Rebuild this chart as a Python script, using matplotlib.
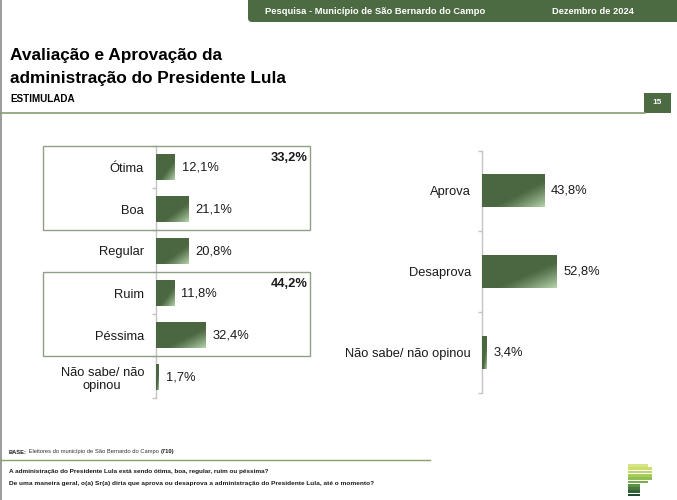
import matplotlib
matplotlib.use("Agg")
import matplotlib.pyplot as plt
import matplotlib.transforms as mtransforms
from matplotlib import font_manager
from matplotlib.patches import Rectangle, FancyBboxPatch
import numpy as np

plt.rcParams['font.family'] = ['Liberation Sans', 'DejaVu Sans']
nomes = {f.name for f in font_manager.fontManager.ttflist}
NARROW = 'Liberation Sans Narrow' if 'Liberation Sans Narrow' in nomes else 'Liberation Sans'

# dados
aval_cat = ['Ótima', 'Boa', 'Regular', 'Ruim', 'Péssima', 'Não sabe/ não\nopinou']
aval_val = [12.1, 21.1, 20.8, 11.8, 32.4, 1.7]
grupos = [('33,2%', 0, 1), ('44,2%', 3, 4)]   # total, primeira, ultima categoria

aprov_cat = ['Aprova', 'Desaprova', 'Não sabe/ não opinou']
aprov_val = [43.8, 52.8, 3.4]

perguntas = ['A administração do Presidente Lula está sendo ótima, boa, regular, ruim ou péssima?',
             'De uma maneira geral, o(a) Sr(a) diria que aprova ou desaprova a administração do Presidente Lula, até o momento?']

DARK = '#4a6741'
LIGHT = '#b4d2aa'
VERDE = '#4d6b43'

fig = plt.figure(figsize=(6.77, 5.0), dpi=100)
renderer = fig.canvas.get_renderer()
# coordenadas em pixels, origem no topo
px = mtransforms.Affine2D().scale(1, -1).translate(0, 500)


def largura(t):
    return t.get_window_extent(renderer).width


def texto_ajustado(x, y, s, alvo, **kw):
    t = fig.text(x, y, s, transform=px, **kw)
    t.set_fontsize(t.get_fontsize() * alvo / largura(t))
    return t


def grad_bar(ax, y, w, h):
    bar = ax.barh(y, w, height=h, color=DARK, edgecolor='none', zorder=2)[0]
    nx, ny = 60, 20
    xx, yy = np.meshgrid(np.linspace(0, 1, nx), np.linspace(0, 1, ny))
    t = np.clip(((xx + yy) / 2 - 0.6) / 0.4, 0, 1) ** 1.2
    c0 = np.array(matplotlib.colors.to_rgb(DARK))
    c1 = np.array(matplotlib.colors.to_rgb(LIGHT))
    img = c0 + (c1 - c0) * t[..., None]
    im = ax.imshow(img, extent=(0, w, y + h / 2, y - h / 2), aspect='auto',
                   origin='upper', zorder=3, interpolation='bilinear')
    im.set_clip_path(bar)


def style_axis(ax, n, pad):
    for s in ['top', 'right', 'bottom']:
        ax.spines[s].set_visible(False)
    ax.spines['left'].set_color('#c4c4c4')
    ax.spines['left'].set_linewidth(1.0)
    ax.set_xticks([])
    ax.set_yticks(range(n))
    ax.tick_params(axis='y', which='major', length=0, pad=pad, labelsize=9.3,
                   labelcolor='#1a1a1a')
    ax.set_yticks(np.arange(-0.5, n, 1), minor=True)
    ax.tick_params(axis='y', which='minor', length=3, width=1, color='#c4c4c4')
    ax.patch.set_alpha(0)


# grafico da esquerda - avaliacao
ax1 = fig.add_axes([156 / 677, 1 - 398 / 500, 150 / 677, 252 / 500])
for i, v in enumerate(aval_val):
    grad_bar(ax1, i, v, 0.6)
    ax1.annotate(f'{v:.1f}%'.replace('.', ','), (v, i), xytext=(5, 0),
                 textcoords='offset points', va='center', ha='left',
                 fontsize=9.3, color='#1a1a1a')
ax1.set_xlim(0, 150 / 1.543)
ax1.set_ylim(len(aval_cat) - 0.5, -0.5)
style_axis(ax1, len(aval_cat), 8.6)
ax1.set_yticklabels(aval_cat)
for lab in ax1.get_yticklabels():
    lab.set_multialignment('center')

# caixas dos grupos
to_px = ax1.transData + px.inverted()
for total, a, b in grupos:
    y_top = to_px.transform((0, a - 0.5))[1]
    y_bot = to_px.transform((0, b + 0.5))[1]
    fig.patches.append(Rectangle((43, y_top), 267, y_bot - y_top, fill=False,
                                 edgecolor='#8f9f86', linewidth=1.0,
                                 transform=px, figure=fig))
    fig.text(308, y_top + 12, total, transform=px, ha='right', va='center',
             fontsize=9.3, fontweight='bold', color='#1a1a1a')

# grafico da direita - aprovacao
ax2 = fig.add_axes([482 / 677, 1 - 392.5 / 500, 150 / 677, 242 / 500])
for i, v in enumerate(aprov_val):
    grad_bar(ax2, i, v, 0.41)
    ax2.annotate(f'{v:.1f}%'.replace('.', ','), (v, i), xytext=(5, 0),
                 textcoords='offset points', va='center', ha='left',
                 fontsize=9.3, color='#1a1a1a')
ax2.set_xlim(0, 150 / 1.42)
ax2.set_ylim(len(aprov_cat) - 0.5, -0.5)
style_axis(ax2, len(aprov_cat), 8.0)
ax2.set_yticklabels(aprov_cat)

# cabecalho
fig.patches.append(FancyBboxPatch((248, -20), 450, 42,
                                  boxstyle='round,pad=0,rounding_size=4',
                                  facecolor=VERDE, edgecolor='none',
                                  transform=px, figure=fig))
texto_ajustado(265, 11.5, 'Pesquisa - Município de São Bernardo do Campo', 220,
               ha='left', va='center', fontsize=6.5, fontweight='bold', color='white')
texto_ajustado(552, 11.5, 'Dezembro de 2024', 81, ha='left', va='center',
               fontsize=6.6, fontweight='bold', color='white')

# borda esquerda
fig.lines.append(plt.Line2D([1, 1], [0, 500], color='#8a8a8a', linewidth=1.2,
                            transform=px, figure=fig))

# titulo
fig.text(10, 60, 'Avaliação e Aprovação da', transform=px, ha='left',
         va='baseline', fontsize=12.4, fontweight='bold', color='black')
fig.text(10, 83, 'administração do Presidente Lula', transform=px, ha='left',
         va='baseline', fontsize=12.4, fontweight='bold', color='black')
fig.text(10, 98.5, 'ESTIMULADA', transform=px, ha='left', va='center',
         fontsize=7.1, fontweight='bold', color='black')
fig.lines.append(plt.Line2D([0, 645], [112.5, 112.5], color='#86a070',
                            linewidth=1.2, transform=px, figure=fig))
fig.patches.append(Rectangle((644, 93), 27, 20, facecolor=VERDE,
                             edgecolor='none', transform=px, figure=fig))
fig.text(657.5, 103, '15', transform=px, ha='center', va='center',
         fontsize=6, fontweight='bold', color='white')

# rodape - linha BASE em segmentos
segs = [('BASE:', 'bold', '#1a1a1a'),
        (' Eleitores do município de São Bernardo do Campo ', 'normal', '#333333'),
        ('(710)', 'bold', '#1a1a1a')]
tam = 5.0
objs = [fig.text(0, 452, s, transform=px, ha='left', va='center', fontsize=tam,
                 fontweight=w, color=c, family=[NARROW, 'Liberation Sans'])
        for s, w, c in segs]
total = sum(largura(o) for o in objs)
tam = tam * 166 / total
xcur = 9
for o in objs:
    o.set_fontsize(tam)
    o.set_x(xcur)
    xcur += largura(o)

fig.lines.append(plt.Line2D([0, 430], [459.5, 459.5], color='#86a070',
                            linewidth=1.0, transform=px, figure=fig))
for yq, q, alvo in zip([472, 483.5], perguntas, [261, 363]):
    texto_ajustado(9, yq, q, alvo, ha='left', va='center', fontsize=5.4,
                   fontweight='bold', color='#1a1a1a',
                   family=[NARROW, 'Liberation Sans'])

# logo
logo_cores = ['#d8e483', '#cbde72', '#bbd566', '#a6ca5c', '#90be55',
              '#78ad4e', '#5c8f45', '#47773c', '#336238', '#1f4c2b']
logo_fim = [648, 652, 652, 652, 652, 648, 640, 640, 640, 640]
for k, (c, xe) in enumerate(zip(logo_cores, logo_fim)):
    fig.patches.append(Rectangle((628, 464 + k * 3.3), xe - 628, 2.7,
                                 facecolor=c, edgecolor='none', transform=px,
                                 figure=fig))

fig.savefig('out.png', dpi=100)
